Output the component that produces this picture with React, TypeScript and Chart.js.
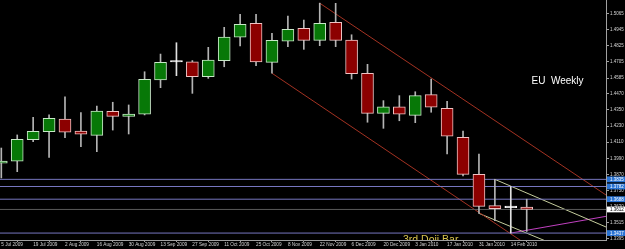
import React, { useEffect, useRef } from 'react';
import { Chart, registerables } from 'chart.js';

Chart.register(...registerables);

// ---- data ----
const weeks = [
  '5 Jul 2009', '12 Jul 2009', '19 Jul 2009', '26 Jul 2009', '2 Aug 2009', '9 Aug 2009',
  '16 Aug 2009', '23 Aug 2009', '30 Aug 2009', '6 Sep 2009', '13 Sep 2009', '20 Sep 2009',
  '27 Sep 2009', '4 Oct 2009', '11 Oct 2009', '18 Oct 2009', '25 Oct 2009', '1 Nov 2009',
  '8 Nov 2009', '15 Nov 2009', '22 Nov 2009', '29 Nov 2009', '6 Dec 2009', '13 Dec 2009',
  '20 Dec 2009', '27 Dec 2009', '3 Jan 2010', '10 Jan 2010', '17 Jan 2010', '24 Jan 2010',
  '31 Jan 2010', '7 Feb 2010', '14 Feb 2010', '21 Feb 2010',
];
const opens = [1.3954, 1.3969, 1.4129, 1.4188, 1.4282, 1.4193, 1.4161, 1.4339, 1.4302, 1.4317, 1.4571, 1.4704, 1.4706, 1.4595, 1.4714, 1.4889, 1.4991, 1.4702, 1.4858, 1.4954, 1.4865, 1.4998, 1.4867, 1.4621, 1.4324, 1.4373, 1.4309, 1.4462, 1.4361, 1.4146, 1.3872, 1.3640, 1.3625, 1.3630];
const highs = [1.4067, 1.4164, 1.4295, 1.4312, 1.4447, 1.4329, 1.4378, 1.4406, 1.4386, 1.4632, 1.4763, 1.4847, 1.4715, 1.4813, 1.4961, 1.5058, 1.5058, 1.4917, 1.5045, 1.5015, 1.5140, 1.5139, 1.4906, 1.4687, 1.4418, 1.4455, 1.4484, 1.4578, 1.4413, 1.4193, 1.4023, 1.3835, 1.3782, 1.3688];
const lows = [1.3845, 1.3892, 1.4114, 1.3998, 1.4144, 1.4077, 1.4040, 1.4200, 1.4171, 1.4312, 1.4514, 1.4603, 1.4472, 1.4583, 1.4669, 1.4823, 1.4677, 1.4621, 1.4818, 1.4798, 1.4825, 1.4818, 1.4578, 1.4258, 1.4213, 1.4269, 1.4255, 1.4332, 1.4023, 1.3860, 1.3583, 1.3529, 1.3437, 1.3449];
const closes = [1.3971, 1.4132, 1.4191, 1.4287, 1.4184, 1.4169, 1.4341, 1.4302, 1.4319, 1.4576, 1.4702, 1.4704, 1.4595, 1.4719, 1.4889, 1.4983, 1.4704, 1.4865, 1.4946, 1.4865, 1.4991, 1.4865, 1.4618, 1.4324, 1.4373, 1.4317, 1.4455, 1.4369, 1.4154, 1.3872, 1.3635, 1.3618, 1.3625, 1.3612];

const priceTickLabels = ['1.5065', '1.4945', '1.4825', '1.4705', '1.4585', '1.4470', '1.4350', '1.4230', '1.4110', '1.3990', '1.3870', '1.3750', '1.3630', '1.3515', '1.3395'];

const levelPrices = [1.3835, 1.3782, 1.3688, 1.3437];
const levelLabels = ['1.3835', '1.3782', '1.3688', '1.3437'];
const currentPrice = 1.3612;
const currentLabel = '1.3612';

// trend lines: [startIndex, startPrice, endIndex, endPrice]
const upperChannel = [20, 1.5140, 37.98, 1.3719];
const lowerChannel = [17, 1.4621, 33, 1.3352];
const paleUpper = [31, 1.3835, 37.98, 1.3482];
const paleLower = [30, 1.3583, 34.3, 1.3373];
const magentaLine = [32, 1.3437, 37.98, 1.3561];

const X_MIN = -0.082;
const X_MAX = 37.98;
const Y_MIN = 1.33857;
const Y_MAX = 1.51635;

const AXIS_FONT = '"Liberation Sans", Arial, sans-serif';

function candleKind(i: number) {
  if (closes[i] > opens[i]) return 'up';
  if (closes[i] < opens[i]) return 'down';
  return 'doji';
}

function segment(def: number[]) {
  return [{ x: def[0], y: def[1] }, { x: def[2], y: def[3] }];
}

const bgPlugin = {
  id: 'bgFill',
  beforeDraw(chart: any) {
    const ctx = chart.ctx;
    ctx.save();
    ctx.fillStyle = '#000000';
    ctx.fillRect(0, 0, chart.width, chart.height);
    ctx.restore();
  },
};

const textPlugin = {
  id: 'annotTexts',
  afterDatasetsDraw(chart: any) {
    const { ctx, chartArea, scales } = chart;
    const x = scales.x;
    const y = scales.y;
    ctx.save();
    ctx.beginPath();
    ctx.rect(chartArea.left, chartArea.top, chartArea.right - chartArea.left, chartArea.bottom - chartArea.top);
    ctx.clip();
    ctx.font = '10px "Liberation Sans", Arial, sans-serif';
    ctx.fillStyle = '#ffffff';
    ctx.textBaseline = 'middle';
    ctx.textAlign = 'left';
    ctx.fillText('EU  Weekly', x.getPixelForValue(33.3), y.getPixelForValue(1.4565));
    ctx.font = '10.5px "Liberation Sans", Arial, sans-serif';
    ctx.fillStyle = '#d8c44c';
    ctx.textBaseline = 'alphabetic';
    ctx.fillText('3rd Doji Bar', x.getPixelForValue(25.23), y.getPixelForValue(1.3363));
    ctx.restore();
  },
};

const priceBoxPlugin = {
  id: 'priceBoxes',
  afterDraw(chart: any) {
    const { ctx, chartArea, scales } = chart;
    const y = scales.y;
    const drawBox = (price: number, text: string, bg: string, fg: string) => {
      const py = y.getPixelForValue(price);
      ctx.fillStyle = bg;
      ctx.fillRect(chartArea.right + 1, py - 2.9, chart.width - chartArea.right - 1, 5.8);
      ctx.fillStyle = fg;
      ctx.font = '4.5px ' + AXIS_FONT;
      ctx.textBaseline = 'middle';
      ctx.textAlign = 'left';
      ctx.fillText(text, chartArea.right + 4, py + 0.2);
    };
    ctx.save();
    levelPrices.forEach((p, i) => drawBox(p, levelLabels[i], '#2a74d4', '#ffffff'));
    drawBox(currentPrice, currentLabel, '#ffffff', '#000000');
    ctx.restore();
  },
};

export default function App() {
  const canvasRef = useRef<HTMLCanvasElement | null>(null);

  useEffect(() => {
    if (!canvasRef.current) return;
    const idx = opens.map((_, i) => i);
    const bodyFill = idx.map((i) => (candleKind(i) === 'up' ? '#077807' : candleKind(i) === 'down' ? '#8c0000' : '#ffffff'));
    const bodyBorder = idx.map((i) => (candleKind(i) === 'up' ? '#c8e8c8' : candleKind(i) === 'down' ? '#f0c4c4' : '#ffffff'));
    const wickColor = idx.map((i) => (candleKind(i) === 'doji' ? '#e0e0e0' : '#b4b4b4'));

    const lineDs = (data: any[], color: string) => ({
      type: 'line',
      data,
      borderColor: color,
      borderWidth: 1,
      pointRadius: 0,
      fill: false,
      tension: 0,
      clip: 0,
      order: 5,
    });

    const datasets: any[] = [
      {
        type: 'bar',
        label: 'bodies',
        data: idx.map((i) => ({ x: i, y: [opens[i], closes[i]] })),
        backgroundColor: bodyFill,
        borderColor: bodyBorder,
        borderWidth: 1,
        borderSkipped: false,
        barThickness: 12,
        minBarLength: 1.5,
        grouped: false,
        order: 1,
      },
      {
        type: 'bar',
        label: 'wicks',
        data: idx.map((i) => ({ x: i, y: [lows[i], highs[i]] })),
        backgroundColor: wickColor,
        borderWidth: 0,
        barThickness: 1,
        grouped: false,
        order: 2,
      },
      ...levelPrices.map((p) => lineDs([{ x: X_MIN, y: p }, { x: X_MAX, y: p }], '#7676bf')),
      lineDs([{ x: X_MIN, y: currentPrice }, { x: X_MAX, y: currentPrice }], '#5a5a5a'),
      lineDs(segment(upperChannel), '#a33222'),
      lineDs(segment(lowerChannel), '#a33222'),
      lineDs(segment(paleUpper), '#c4cc9c'),
      lineDs(segment(paleLower), '#c4cc9c'),
      lineDs(segment(magentaLine), '#c040c0'),
    ];

    const chart = new Chart(canvasRef.current, {
      type: 'bar',
      data: { datasets },
      plugins: [bgPlugin, textPlugin, priceBoxPlugin],
      options: {
        animation: false,
        responsive: false,
        devicePixelRatio: 1,
        events: [],
        layout: { padding: 0 },
        plugins: { legend: { display: false }, tooltip: { enabled: false }, title: { display: false } },
        scales: {
          x: {
            type: 'linear',
            min: X_MIN,
            max: X_MAX,
            offset: false,
            afterFit: (s: any) => {
              s.height = 9;
              s.paddingLeft = 0;
              s.paddingRight = 0;
            },
            afterBuildTicks: (s: any) => {
              s.ticks = weeks.map((_, i) => i).filter((i) => i % 2 === 0).map((i) => ({ value: i }));
            },
            ticks: {
              autoSkip: false,
              maxRotation: 0,
              minRotation: 0,
              align: 'start',
              padding: 0,
              color: '#d4d4d4',
              font: { size: 4.7, family: AXIS_FONT },
              callback: (v: any) => weeks[Math.round(Number(v))],
            },
            grid: { drawOnChartArea: false, color: '#a0a0a0', tickLength: 2 },
            border: { color: '#a0a0a0' },
          },
          y: {
            type: 'linear',
            position: 'right',
            min: Y_MIN,
            max: Y_MAX,
            afterFit: (s: any) => {
              s.width = 19;
              s.paddingTop = 0;
              s.paddingBottom = 0;
            },
            afterBuildTicks: (s: any) => {
              s.ticks = priceTickLabels.map((t) => ({ value: parseFloat(t) }));
            },
            ticks: {
              autoSkip: false,
              padding: 1,
              color: '#d4d4d4',
              font: { size: 4.5, family: AXIS_FONT },
              callback: (_v: any, i: number) => priceTickLabels[i],
            },
            grid: { drawOnChartArea: false, color: '#a0a0a0', tickLength: 3 },
            border: { color: '#a0a0a0' },
          },
        },
      } as any,
    } as any);

    return () => chart.destroy();
  }, []);

  return (
    <div style={{ position: 'fixed', left: 0, top: 0, width: 625, height: 249, background: '#000' }}>
      <canvas ref={canvasRef} width={625} height={249} style={{ display: 'block' }} />
    </div>
  );
}
